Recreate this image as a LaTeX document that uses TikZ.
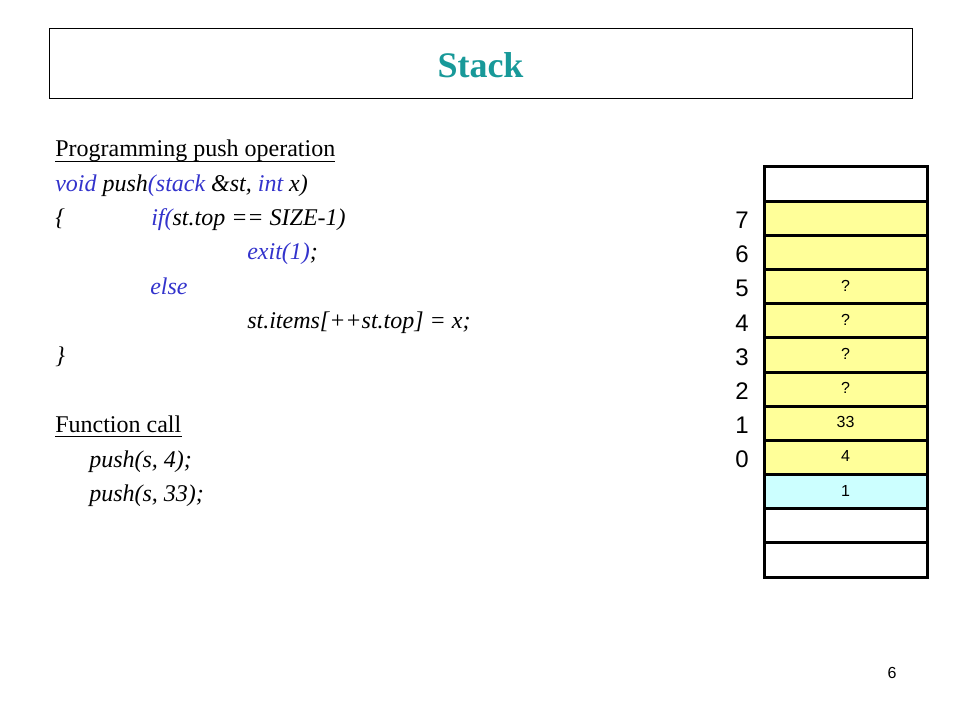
\documentclass[tikz,border=0pt]{standalone}
\usepackage{fontspec}
\setmainfont{Liberation Serif}
\newfontfamily\arialfont{Liberation Sans}
\definecolor{titlecol}{RGB}{24,153,153}
\definecolor{kwblue}{RGB}{51,51,204}
\definecolor{cellyel}{RGB}{255,255,153}
\definecolor{cellcyan}{RGB}{204,255,255}
\newcommand\kw[1]{\textcolor{kwblue}{#1}}
\tikzset{
  txt/.style={anchor=base west,inner sep=0pt,font=\fontsize{18}{22}\selectfont},
  code/.style={txt,font=\itshape\fontsize{18}{22}\selectfont},
  idx/.style={inner sep=0pt,font=\arialfont\fontsize{18}{22}\selectfont},
  val/.style={inner sep=0pt,font=\arialfont\fontsize{12}{14}\selectfont}
}
\begin{document}
\begin{tikzpicture}[x=0.75pt,y=-0.75pt]
\useasboundingbox(0,0)rectangle(960,720);
% title
\path[draw,line width=0.75pt](49,29)rectangle(912,99);
\node[titlecol,font=\bfseries\fontsize{27}{32}\selectfont](title)at(480.5,65){Stack};
% code
\node[txt](head)at(55,157){Programming push operation};
\path[draw,line width=0.75pt]%
([yshift=-3.6pt]head.base west)--([yshift=-3.6pt]head.base east);
\node[code](sig)at(55,192){\kw{void} push\kw{(stack} \&st, \kw{int} x)};
\node[code](open)at(55,226){\{};
\node[code](cond)at(151,226){\kw{if(}st.top == SIZE-1)};
\node[code](exit)at(247,260){\kw{exit(1)};};
\node[code](els)at(150,295){\kw{else}};
\node[code](assign)at(247,329){st.items[++st.top] = x;};
\node[code](close)at(55,363){\}};
\node[txt](call)at(55,432){Function call};
\path[draw,line width=0.75pt]%
([yshift=-3.6pt]call.base west)--([yshift=-3.6pt]call.base east);
\node[code](callA)at(89,467){push(s, 4);};
\node[code](callB)at(89,501){push(s, 33);};
% stack
\foreach \i/\f in {0/white,1/cellyel,2/cellyel,3/cellyel,4/cellyel,%
5/cellyel,6/cellyel,7/cellyel,8/cellyel,9/cellcyan,10/white,11/white}
\path[draw,fill=\f,line width=2.25pt](764,{167+34.17*\i})%
rectangle(927,{201.17+34.17*\i});
\foreach \i/\v in {3/?,4/?,5/?,6/?,7/33,8/4,9/1}
\node[val](v\i)at(845.5,{183+34.17*\i}){\v};
\foreach \n in {0,...,7}
\node[idx](i\n)at(742,{459.5-34.17*\n}){\n};
% page number
\node[idx,font=\arialfont\fontsize{12}{14}\selectfont](page)at(892,673){6};
\end{tikzpicture}
\end{document}
